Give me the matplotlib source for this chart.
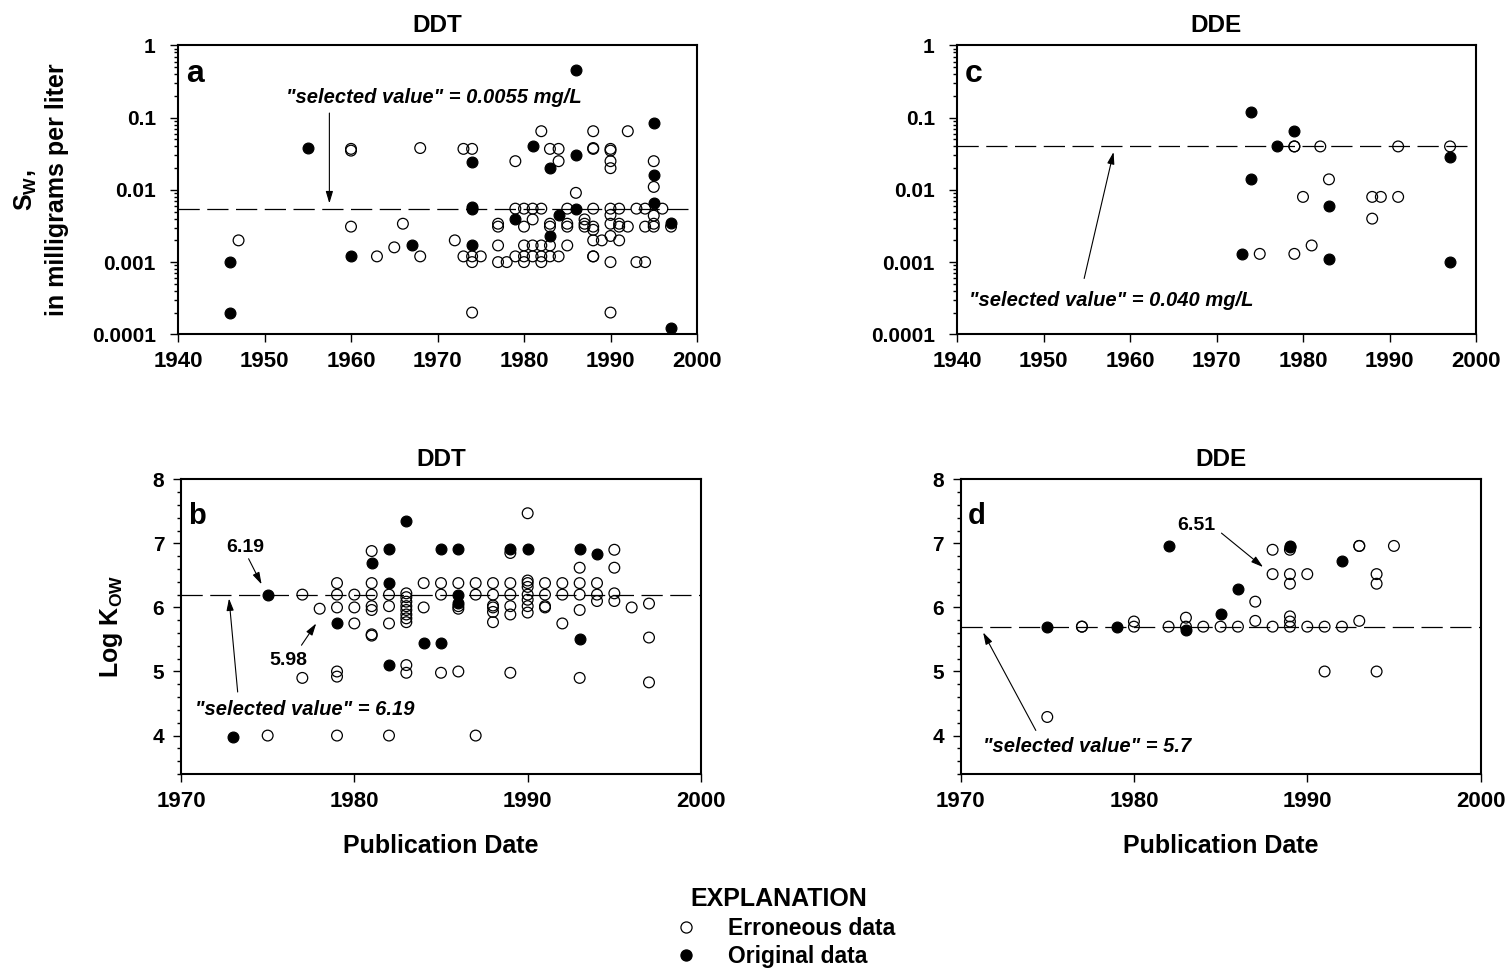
import matplotlib
matplotlib.use('Agg')
import matplotlib.pyplot as plt
from matplotlib.lines import Line2D
from matplotlib.ticker import LogLocator, MultipleLocator, NullFormatter

plt.rcParams['font.family'] = ['Liberation Sans', 'DejaVu Sans']
plt.rcParams['font.weight'] = 'bold'
plt.rcParams['mathtext.fontset'] = 'custom'
plt.rcParams['mathtext.bf'] = 'Liberation Sans:bold'
plt.rcParams['mathtext.rm'] = 'Liberation Sans:bold'

# ---- data ----
# panel a: DDT water solubility (mg/L)
ddt_sw_err_year = [
    1947,
    1960, 1960, 1960,
    1963, 1965, 1966,
    1968, 1968,
    1972,
    1973, 1973,
    1974, 1974, 1974, 1974,
    1975,
    1977, 1977, 1977, 1977,
    1978,
    1979, 1979, 1979,
    1980, 1980, 1980, 1980, 1980,
    1981, 1981, 1981, 1981,
    1982, 1982, 1982, 1982, 1982,
    1983, 1983, 1983, 1983, 1983,
    1984, 1984, 1984,
    1985, 1985, 1985, 1985,
    1986,
    1987, 1987, 1987,
    1988, 1988, 1988, 1988, 1988, 1988, 1988, 1988, 1988,
    1989,
    1990, 1990, 1990, 1990, 1990, 1990, 1990, 1990, 1990, 1990,
    1991, 1991, 1991, 1991,
    1992, 1992,
    1993, 1993,
    1994, 1994, 1994,
    1995, 1995, 1995, 1995, 1995,
    1996,
    1997,
]
ddt_sw_err_val = [
    0.002,
    0.037, 0.035, 0.0031,
    0.0012, 0.0016, 0.0034,
    0.038, 0.0012,
    0.002,
    0.037, 0.0012,
    0.037, 0.0012, 0.001, 0.0002,
    0.0012,
    0.0034, 0.0031, 0.0017, 0.001,
    0.001,
    0.025, 0.0055, 0.0012,
    0.0055, 0.0031, 0.0017, 0.0012, 0.001,
    0.0055, 0.0039, 0.0017, 0.0012,
    0.065, 0.0055, 0.0017, 0.0012, 0.001,
    0.037, 0.0034, 0.0031, 0.0017, 0.0012,
    0.037, 0.025, 0.0012,
    0.0055, 0.0034, 0.0031, 0.0017,
    0.0091,
    0.0039, 0.0034, 0.0031,
    0.065, 0.038, 0.037, 0.0055, 0.0031, 0.0028, 0.002, 0.0012, 0.0012,
    0.002,
    0.037, 0.035, 0.025, 0.02, 0.0055, 0.0045, 0.0034, 0.0023, 0.001, 0.0002,
    0.0055, 0.0034, 0.0031, 0.002,
    0.065, 0.0031,
    0.0055, 0.001,
    0.0055, 0.0031, 0.001,
    0.025, 0.011, 0.0044, 0.0034, 0.0031,
    0.0055,
    0.0031,
]
ddt_sw_orig_year = [1946, 1946, 1955, 1960, 1967, 1974, 1974, 1974, 1974, 1979, 1981,
                    1983, 1983, 1984, 1986, 1986, 1986, 1995, 1995, 1995, 1997, 1997]
ddt_sw_orig_val = [0.001, 0.0002, 0.038, 0.0012, 0.0017, 0.0245, 0.0058, 0.0055, 0.0017, 0.004, 0.040,
                   0.020, 0.0023, 0.0045, 0.46, 0.030, 0.0055, 0.084, 0.016, 0.0065, 0.0035, 0.000124]
ddt_sw_selected = 0.0055

# panel c: DDE water solubility (mg/L)
dde_sw_err_year = [1975, 1979, 1979, 1979, 1980, 1981, 1982, 1983, 1988, 1988, 1989, 1991, 1991, 1997]
dde_sw_err_val = [0.0013, 0.040, 0.040, 0.0013, 0.008, 0.0017, 0.040, 0.014, 0.004, 0.008, 0.008,
                  0.040, 0.008, 0.040]
dde_sw_orig_year = [1973, 1974, 1974, 1977, 1979, 1983, 1983, 1997, 1997]
dde_sw_orig_val = [0.0013, 0.12, 0.014, 0.040, 0.065, 0.006, 0.0011, 0.029, 0.001]
dde_sw_selected = 0.040

# panel b: DDT log Kow
ddt_kow_err_year = [
    1975,
    1977, 1977,
    1978,
    1979, 1979, 1979, 1979, 1979, 1979,
    1980, 1980, 1980,
    1981, 1981, 1981, 1981, 1981, 1981, 1981,
    1982, 1982, 1982, 1982,
    1983, 1983, 1983, 1983, 1983, 1983, 1983, 1983, 1983, 1983,
    1984, 1984,
    1985, 1985, 1985,
    1986, 1986, 1986, 1986,
    1987, 1987, 1987,
    1988, 1988, 1988, 1988, 1988, 1988,
    1989, 1989, 1989, 1989, 1989, 1989,
    1990, 1990, 1990, 1990, 1990, 1990, 1990, 1990,
    1991, 1991, 1991, 1991,
    1992, 1992, 1992,
    1993, 1993, 1993, 1993, 1993,
    1994, 1994, 1994,
    1995, 1995, 1995, 1995,
    1996,
    1997, 1997, 1997,
]
ddt_kow_err_val = [
    4.0,
    6.2, 4.9,
    5.98,
    6.38, 6.2, 6.0, 5.0, 4.92, 4.0,
    6.2, 6.0, 5.75,
    6.88, 6.38, 6.2, 6.02, 5.96, 5.58, 5.56,
    6.2, 6.02, 5.75, 4.0,
    6.22, 6.16, 6.09, 6.02, 5.96, 5.89, 5.83, 5.77, 5.10, 4.98,
    6.38, 6.0,
    6.38, 6.2, 4.98,
    6.38, 6.02, 5.98, 5.0,
    6.38, 6.2, 4.0,
    6.38, 6.2, 6.03, 6.0, 5.93, 5.77,
    6.85, 6.38, 6.2, 6.02, 5.89, 4.98,
    7.47, 6.42, 6.38, 6.32, 6.2, 6.12, 6.02, 5.92,
    6.38, 6.2, 6.02, 6.0,
    6.38, 6.2, 5.75,
    6.62, 6.38, 6.2, 5.96, 4.9,
    6.38, 6.2, 6.1,
    6.9, 6.62, 6.22, 6.1,
    6.0,
    6.06, 5.53, 4.83,
]
ddt_kow_orig_year = [1973, 1975, 1979, 1981, 1982, 1982, 1982, 1983, 1984, 1985, 1985,
                     1986, 1986, 1986, 1989, 1990, 1993, 1993, 1994]
ddt_kow_orig_val = [3.98, 6.19, 5.76, 6.70, 6.91, 6.38, 5.10, 7.35, 5.44, 6.91, 5.44,
                    6.91, 6.19, 6.07, 6.91, 6.91, 6.91, 5.50, 6.84]
ddt_kow_selected = 6.19

# panel d: DDE log Kow
dde_kow_err_year = [
    1975,
    1977, 1977,
    1980, 1980,
    1982,
    1983, 1983,
    1984, 1985, 1986,
    1987, 1987,
    1988, 1988, 1988,
    1989, 1989, 1989, 1989, 1989, 1989,
    1990, 1990,
    1991, 1991,
    1992,
    1993, 1993, 1993,
    1994, 1994, 1994,
    1995,
]
dde_kow_err_val = [
    4.29,
    5.7, 5.7,
    5.78, 5.7,
    5.7,
    5.84, 5.7,
    5.7, 5.7, 5.7,
    6.09, 5.79,
    6.9, 6.52, 5.7,
    6.9, 6.52, 6.37, 5.86, 5.78, 5.7,
    6.52, 5.7,
    5.7, 5.0,
    5.7,
    6.96, 6.96, 5.79,
    6.52, 6.37, 5.0,
    6.96,
]
dde_kow_orig_year = [1975, 1979, 1982, 1983, 1985, 1986, 1989, 1989, 1992]
dde_kow_orig_val = [5.7, 5.7, 6.96, 5.64, 5.89, 6.29, 6.96, 6.94, 6.73]
dde_kow_selected = 5.7

sw_xticks = [1940, 1950, 1960, 1970, 1980, 1990, 2000]
sw_yticks = [0.0001, 0.001, 0.01, 0.1, 1]
sw_yticklabels = ['0.0001', '0.001', '0.01', '0.1', '1']
kow_xticks = [1970, 1980, 1990, 2000]
kow_yticks = [4, 5, 6, 7, 8]

W, H = 1507, 972


def px_axes(fig, left, top, right, bottom):
    return fig.add_axes([left / W, 1 - bottom / H, (right - left) / W, (bottom - top) / H])


def style(ax, ypad):
    for sp in ax.spines.values():
        sp.set_linewidth(1.5)
    ax.tick_params(which='both', direction='out', top=False, right=False, width=1)
    ax.tick_params(which='major', length=5.5)
    ax.tick_params(which='minor', length=3)
    ax.tick_params(axis='x', labelsize=16, pad=6.5)
    ax.tick_params(axis='y', labelsize=15, pad=ypad)


def points(ax, ex, ey, ox, oy):
    ax.scatter(ex, ey, s=60, facecolors='none', edgecolors='black', linewidths=0.9, zorder=3)
    ax.scatter(ox, oy, s=60, facecolors='black', edgecolors='black', linewidths=0.9, zorder=4)


def selected_line(ax, y):
    ax.axhline(y, color='black', lw=0.9, dashes=(17, 6), zorder=2)


def arrow(ax, tip, tail):
    ax.annotate('', xy=tip, xytext=tail,
                arrowprops=dict(arrowstyle='-|>,head_length=0.6,head_width=0.18',
                                lw=0.8, color='black', shrinkA=0, shrinkB=0,
                                mutation_scale=12))


fig = plt.figure(figsize=(W / 100, H / 100), dpi=100)

ax_a = px_axes(fig, 178, 45.5, 697, 334.3)
ax_c = px_axes(fig, 957, 45.5, 1476, 334.3)
ax_b = px_axes(fig, 181, 479.3, 701, 774)
ax_d = px_axes(fig, 960.6, 479.3, 1480.6, 774)

# solubility panels
for ax, ex, ey, ox, oy, sel, title, letter in [
        (ax_a, ddt_sw_err_year, ddt_sw_err_val, ddt_sw_orig_year, ddt_sw_orig_val, ddt_sw_selected, 'DDT', 'a'),
        (ax_c, dde_sw_err_year, dde_sw_err_val, dde_sw_orig_year, dde_sw_orig_val, dde_sw_selected, 'DDE', 'c')]:
    ax.set_yscale('log')
    ax.set_xlim(1940, 2000)
    ax.set_ylim(0.0001, 1)
    ax.set_xticks(sw_xticks)
    ax.set_yticks(sw_yticks, sw_yticklabels)
    ax.yaxis.set_minor_locator(LogLocator(base=10, subs=range(2, 10)))
    ax.yaxis.set_minor_formatter(NullFormatter())
    style(ax, 10.5)
    selected_line(ax, sel)
    points(ax, ex, ey, ox, oy)
    ax.set_title(title, fontsize=17.5, fontweight='bold', pad=9.5)
    ax.text(0.015, 0.872, letter, transform=ax.transAxes, fontsize=23, fontweight='bold',
            ha='left', va='baseline')

# log Kow panels
for ax, ex, ey, ox, oy, sel, title, letter in [
        (ax_b, ddt_kow_err_year, ddt_kow_err_val, ddt_kow_orig_year, ddt_kow_orig_val, ddt_kow_selected, 'DDT', 'b'),
        (ax_d, dde_kow_err_year, dde_kow_err_val, dde_kow_orig_year, dde_kow_orig_val, dde_kow_selected, 'DDE', 'd')]:
    ax.set_xlim(1970, 2000)
    ax.set_ylim(3.4, 8)
    ax.set_xticks(kow_xticks)
    ax.set_yticks(kow_yticks)
    ax.yaxis.set_minor_locator(MultipleLocator(0.2))
    style(ax, 6.5)
    selected_line(ax, sel)
    points(ax, ex, ey, ox, oy)
    ax.set_title(title, fontsize=17.5, fontweight='bold', pad=9.5)
    ax.text(0.013, 0.85, letter, transform=ax.transAxes, fontsize=21, fontweight='bold',
            ha='left', va='baseline')
    ax.set_xlabel('Publication Date', fontsize=18, fontweight='bold', labelpad=16)

# annotations
ann = dict(fontsize=14.5, fontweight='bold', style='italic', va='center', ha='left')
ax_a.text(1952.5, 0.193, '"selected value" = 0.0055 mg/L', **ann)
arrow(ax_a, (1957.5, 0.0065), (1957.5, 0.116))

ax_c.text(1941.4, 0.000297, '"selected value" = 0.040 mg/L', **ann)
arrow(ax_c, (1958.1, 0.0335), (1954.7, 0.000593))

ax_b.text(1970.8, 4.4, '"selected value" = 6.19', **ann)
arrow(ax_b, (1972.77, 6.14), (1973.27, 4.68))
ax_b.text(1973.7, 6.93, '6.19', fontsize=14, fontweight='bold', ha='center', va='center')
arrow(ax_b, (1974.65, 6.36), (1973.9, 6.76))
ax_b.text(1976.2, 5.17, '5.98', fontsize=14, fontweight='bold', ha='center', va='center')
arrow(ax_b, (1977.8, 5.75), (1976.95, 5.41))

ax_d.text(1971.3, 3.83, '"selected value" = 5.7', **ann)
arrow(ax_d, (1971.3, 5.61), (1974.34, 4.08))
ax_d.text(1983.6, 7.28, '6.51', fontsize=14, fontweight='bold', ha='center', va='center')
arrow(ax_d, (1987.45, 6.63), (1985.05, 7.16))

# y labels
ax_a.set_ylabel('S$_\\mathbf{W}$,\nin milligrams per liter', fontsize=18, fontweight='bold',
                linespacing=1.3)
ax_a.yaxis.set_label_coords((69 - 178) / 519, 0.5)
ax_b.set_ylabel('Log K$_\\mathbf{OW}$', fontsize=18, fontweight='bold')
ax_b.yaxis.set_label_coords((125 - 181) / 520, 0.5)

# explanation
handles = [
    Line2D([], [], ls='none', marker='o', ms=8, mfc='white', mec='black', mew=0.9),
    Line2D([], [], ls='none', marker='o', ms=8, mfc='black', mec='black', mew=0.9),
]
fig.legend(handles, ['Erroneous data', 'Original data'], loc='upper center',
           bbox_to_anchor=(0.517, 0.104), frameon=False, title='EXPLANATION',
           fontsize=16.5, title_fontproperties={'weight': 'bold', 'size': 18},
           handlelength=2, handletextpad=0.8, labelspacing=0.25, borderpad=0.2)

fig.savefig('out.png', dpi=100)
